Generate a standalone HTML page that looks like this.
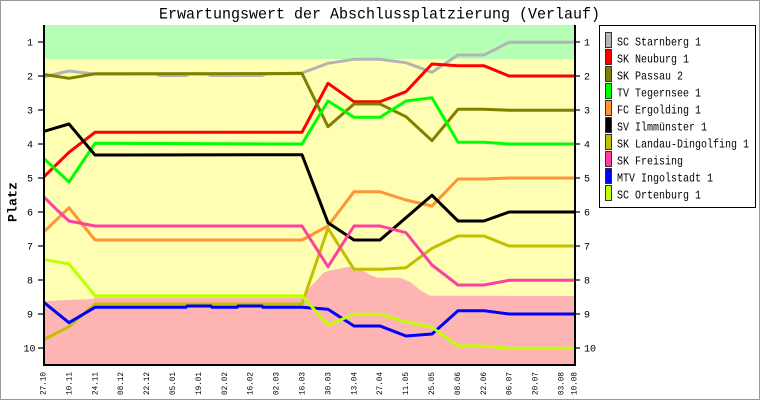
<!DOCTYPE html>
<html><head><meta charset="utf-8"><style>
html,body{margin:0;padding:0;background:#fff;}
svg{display:block;}
text{font-family:"Liberation Mono",monospace;fill:#000;}
</style></head><body>
<svg width="760" height="400" viewBox="0 0 760 400" xmlns="http://www.w3.org/2000/svg">
<rect x="0.5" y="0.5" width="759" height="399" fill="#fff" stroke="#999" stroke-width="1"/>
<text x="159" y="18.5" font-size="16" textLength="441" lengthAdjust="spacingAndGlyphs">Erwartungswert der Abschlussplatzierung (Verlauf)</text>
<defs><clipPath id="pc"><rect x="45" y="25" width="529" height="339"/></clipPath></defs>
<g clip-path="url(#pc)">
<rect x="45" y="25" width="529" height="34" fill="#b4ffb4"/>
<rect x="45" y="59" width="529" height="305" fill="#ffffb4"/>
<polygon fill="#ffb4b4" points="45,301 69,300 93,299 95,297.5 302,297.5 303,297 310,287 317,280 323,273 328,271 345,267.5 352,266.5 362,270 370,275 378,277.7 400,277.7 410,281.7 420,290 430,295.7 574,296 574,364 45,364"/>
<g fill="none" stroke-width="3" stroke-linejoin="round">
<polyline stroke="#b4b4b4" points="43,77 69,71 95,74 156,74 160,75.5 186,75.5 190,74 207,74 211,75.5 262,75.5 266,74 302,73 328,63.3 354,59.3 380,59.3 406,62.7 432,72.3 458,55 484,55 509,42.3 574,42.3"/>
<polyline stroke="#ff0000" points="43,177.7 69,152.3 95,132.3 302,132.3 328,83.3 354,101.7 380,101.7 406,91.7 432,64 458,65.7 484,65.7 509,76 574,76"/>
<polyline stroke="#808000" points="43,74.3 69,78.3 95,73.8 302,73.5 328,126.7 354,104 380,104 406,116.7 432,140.7 458,109.3 484,109.3 509,110.3 574,110.3"/>
<polyline stroke="#00ff00" points="43,157.7 69,182 95,143.3 302,144 328,101 354,117.3 380,117.3 406,101 432,97.7 458,142.3 484,142.3 509,144 574,144"/>
<polyline stroke="#ff9433" points="43,232.7 69,207.7 95,240 302,240 328,226 354,191.7 380,191.7 406,200 432,206 458,179 484,179 509,178 574,178"/>
<polyline stroke="#000000" points="43,131.7 69,124 95,155 302,154.7 328,222.7 354,240 380,240 406,217.7 432,195.3 458,221 484,221 509,212 574,212"/>
<polyline stroke="#c0c000" points="43,340 69,326.7 95,304 302,304 328,228.3 354,269.3 380,269.3 406,267.7 432,248.3 458,236 484,236 509,246 574,246"/>
<polyline stroke="#ff40a0" points="43,196 56,209 69,221 95,226 302,226 328,266.7 354,226 380,226 406,232.7 432,265 458,285 484,285 509,280.3 574,280.3"/>
<polyline stroke="#0000ff" points="43,301.7 69,322.7 95,307.3 186,307.3 187,306 211,306 212,307.3 237,307.3 238,306 262,306 263,307.3 302,307.3 328,309.3 354,326 380,326 406,336 432,334 458,310.7 484,310.7 509,314 574,314"/>
<polyline stroke="#c0ff00" points="43,259.3 69,264 95,295.7 302,295.7 328,325 354,314.3 380,314.3 406,321.7 432,327.3 458,346 484,346 509,348.3 574,348.3"/>
</g>
</g>
<!-- axes -->
<g stroke="#000" fill="none">
<line x1="44" y1="25" x2="44" y2="366" stroke-width="2"/>
<line x1="575" y1="25" x2="575" y2="366" stroke-width="2"/>
<line x1="43" y1="365" x2="576" y2="365" stroke-width="2"/>
<g stroke-width="1.2">
<line x1="38" y1="42" x2="43" y2="42"/><line x1="576" y1="42" x2="580" y2="42"/>
<line x1="38" y1="76" x2="43" y2="76"/><line x1="576" y1="76" x2="580" y2="76"/>
<line x1="38" y1="110" x2="43" y2="110"/><line x1="576" y1="110" x2="580" y2="110"/>
<line x1="38" y1="144" x2="43" y2="144"/><line x1="576" y1="144" x2="580" y2="144"/>
<line x1="38" y1="178" x2="43" y2="178"/><line x1="576" y1="178" x2="580" y2="178"/>
<line x1="38" y1="212" x2="43" y2="212"/><line x1="576" y1="212" x2="580" y2="212"/>
<line x1="38" y1="246" x2="43" y2="246"/><line x1="576" y1="246" x2="580" y2="246"/>
<line x1="38" y1="280" x2="43" y2="280"/><line x1="576" y1="280" x2="580" y2="280"/>
<line x1="38" y1="314" x2="43" y2="314"/><line x1="576" y1="314" x2="580" y2="314"/>
<line x1="38" y1="348" x2="43" y2="348"/><line x1="576" y1="348" x2="580" y2="348"/>
</g>
</g>
<g font-size="10" text-anchor="middle">
<text x="30" y="45.5">1</text><text x="30" y="79.5">2</text><text x="30" y="113.5">3</text><text x="30" y="147.5">4</text><text x="30" y="181.5">5</text><text x="30" y="215.5">6</text><text x="30" y="249.5">7</text><text x="30" y="283.5">8</text><text x="30" y="317.5">9</text><text x="29.5" y="351.5">10</text>
</g>
<g font-size="10">
<text x="584" y="45.5">1</text><text x="584" y="79.5">2</text><text x="584" y="113.5">3</text><text x="584" y="147.5">4</text><text x="584" y="181.5">5</text><text x="584" y="215.5">6</text><text x="584" y="249.5">7</text><text x="584" y="283.5">8</text><text x="584" y="317.5">9</text><text x="584" y="351.5">10</text>
</g>
<text transform="translate(16.5,222) rotate(-90)" font-size="13" font-weight="bold" textLength="40" lengthAdjust="spacingAndGlyphs">Platz</text>
<g font-size="8">
<text transform="translate(45.5,395) rotate(-90)" textLength="23" lengthAdjust="spacingAndGlyphs">27.10</text>
<text transform="translate(71.4,395) rotate(-90)" textLength="23" lengthAdjust="spacingAndGlyphs">10.11</text>
<text transform="translate(97.3,395) rotate(-90)" textLength="23" lengthAdjust="spacingAndGlyphs">24.11</text>
<text transform="translate(123.2,395) rotate(-90)" textLength="23" lengthAdjust="spacingAndGlyphs">08.12</text>
<text transform="translate(149.1,395) rotate(-90)" textLength="23" lengthAdjust="spacingAndGlyphs">22.12</text>
<text transform="translate(175,395) rotate(-90)" textLength="23" lengthAdjust="spacingAndGlyphs">05.01</text>
<text transform="translate(200.9,395) rotate(-90)" textLength="23" lengthAdjust="spacingAndGlyphs">19.01</text>
<text transform="translate(226.8,395) rotate(-90)" textLength="23" lengthAdjust="spacingAndGlyphs">02.02</text>
<text transform="translate(252.7,395) rotate(-90)" textLength="23" lengthAdjust="spacingAndGlyphs">16.02</text>
<text transform="translate(278.6,395) rotate(-90)" textLength="23" lengthAdjust="spacingAndGlyphs">02.03</text>
<text transform="translate(304.5,395) rotate(-90)" textLength="23" lengthAdjust="spacingAndGlyphs">16.03</text>
<text transform="translate(330.4,395) rotate(-90)" textLength="23" lengthAdjust="spacingAndGlyphs">30.03</text>
<text transform="translate(356.3,395) rotate(-90)" textLength="23" lengthAdjust="spacingAndGlyphs">13.04</text>
<text transform="translate(382.2,395) rotate(-90)" textLength="23" lengthAdjust="spacingAndGlyphs">27.04</text>
<text transform="translate(408.1,395) rotate(-90)" textLength="23" lengthAdjust="spacingAndGlyphs">11.05</text>
<text transform="translate(434,395) rotate(-90)" textLength="23" lengthAdjust="spacingAndGlyphs">25.05</text>
<text transform="translate(459.9,395) rotate(-90)" textLength="23" lengthAdjust="spacingAndGlyphs">08.06</text>
<text transform="translate(485.8,395) rotate(-90)" textLength="23" lengthAdjust="spacingAndGlyphs">22.06</text>
<text transform="translate(511.7,395) rotate(-90)" textLength="23" lengthAdjust="spacingAndGlyphs">06.07</text>
<text transform="translate(537.6,395) rotate(-90)" textLength="23" lengthAdjust="spacingAndGlyphs">20.07</text>
<text transform="translate(563.5,395) rotate(-90)" textLength="23" lengthAdjust="spacingAndGlyphs">03.08</text>
<text transform="translate(576.5,395) rotate(-90)" textLength="23" lengthAdjust="spacingAndGlyphs">10.08</text>
</g>
<!-- legend -->
<rect x="599.5" y="25.5" width="156" height="182" fill="#fff" stroke="#000" stroke-width="1"/>
<g stroke="#333" stroke-width="1">
<rect x="605.5" y="32.5" width="6" height="15" fill="#b4b4b4"/>
<rect x="605.5" y="49.5" width="6" height="15" fill="#ff0000"/>
<rect x="605.5" y="66.5" width="6" height="15" fill="#808000"/>
<rect x="605.5" y="83.5" width="6" height="15" fill="#00ff00"/>
<rect x="605.5" y="100.5" width="6" height="15" fill="#ff9433"/>
<rect x="605.5" y="117.5" width="6" height="15" fill="#000000"/>
<rect x="605.5" y="134.5" width="6" height="15" fill="#c0c000"/>
<rect x="605.5" y="151.5" width="6" height="15" fill="#ff40a0"/>
<rect x="605.5" y="168.5" width="6" height="15" fill="#0000ff"/>
<rect x="605.5" y="185.5" width="6" height="15" fill="#c0ff00"/>
</g>
<g font-size="12" lengthAdjust="spacingAndGlyphs">
<text x="617" y="45.3" textLength="84" lengthAdjust="spacingAndGlyphs">SC Starnberg 1</text>
<text x="617" y="62.3" textLength="72" lengthAdjust="spacingAndGlyphs">SK Neuburg 1</text>
<text x="617" y="79.3" textLength="66" lengthAdjust="spacingAndGlyphs">SK Passau 2</text>
<text x="617" y="96.3" textLength="84" lengthAdjust="spacingAndGlyphs">TV Tegernsee 1</text>
<text x="617" y="113.3" textLength="84" lengthAdjust="spacingAndGlyphs">FC Ergolding 1</text>
<text x="617" y="130.3" textLength="90" lengthAdjust="spacingAndGlyphs">SV Ilmmünster 1</text>
<text x="617" y="147.3" textLength="132" lengthAdjust="spacingAndGlyphs">SK Landau-Dingolfing 1</text>
<text x="617" y="164.3" textLength="66" lengthAdjust="spacingAndGlyphs">SK Freising</text>
<text x="617" y="181.3" textLength="96" lengthAdjust="spacingAndGlyphs">MTV Ingolstadt 1</text>
<text x="617" y="198.3" textLength="84" lengthAdjust="spacingAndGlyphs">SC Ortenburg 1</text>
</g>
</svg>
</body></html>
